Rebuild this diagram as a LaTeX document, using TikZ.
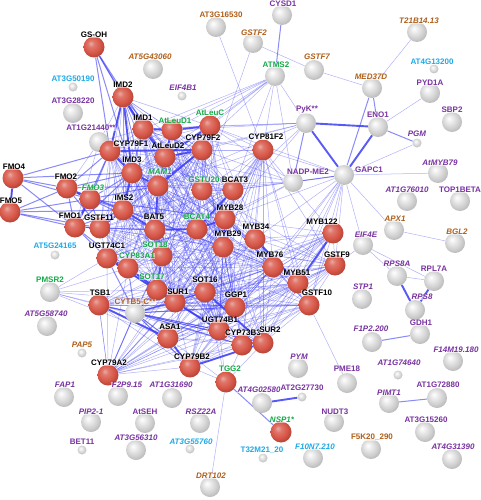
\documentclass[tikz,border=0pt]{standalone}
\usepackage{fontspec}
\newfontfamily\lblfont{Liberation Sans}
\usetikzlibrary{backgrounds}
\definecolor{edgeblue}{RGB}{60,60,245}
\definecolor{lgreen}{RGB}{20,170,70}
\definecolor{lcyan}{RGB}{30,170,230}
\definecolor{lpurple}{RGB}{120,50,160}
\definecolor{lorange}{RGB}{175,95,25}
\definecolor{nred}{RGB}{215,85,70}
\definecolor{ngray}{RGB}{205,205,205}
\pgfdeclareradialshading{redsphere}{\pgfpoint{-8bp}{9bp}}{color(0bp)=(white!50!nred); color(8bp)=(nred!80!white); color(20bp)=(nred); color(32bp)=(nred!75!black); color(42bp)=(nred!55!black); color(50bp)=(nred!55!black)}
\pgfdeclareradialshading{graysphere}{\pgfpoint{-8bp}{9bp}}{color(0bp)=(white); color(9bp)=(white!92!black); color(22bp)=(ngray); color(33bp)=(black!32); color(42bp)=(black!48); color(50bp)=(black!48)}
\tikzset{
 rn/.style={circle, minimum size=21pt, inner sep=0pt, shading=redsphere},
 gn/.style={circle, minimum size=20pt, inner sep=0pt, shading=graysphere},
 sn/.style={circle, minimum size=9pt, inner sep=0pt, shading=graysphere},
 lab/.style={font=\lblfont\bfseries\fontsize{8}{9}\selectfont, inner sep=0.4pt, fill=white, fill opacity=0.55, text opacity=1},
 lk/.style={lab, text=black},
 lg/.style={lab, text=lgreen},
 lc/.style={lab, text=lcyan},
 lp/.style={lab, text=lpurple},
 lo/.style={lab, text=lorange},
 ital/.style={font=\lblfont\bfseries\itshape\fontsize{8}{9}\selectfont},
 e1/.style={draw=edgeblue, line width=0.5pt, opacity=0.4},
 e2/.style={draw=edgeblue, line width=1pt, opacity=0.6},
 e3/.style={draw=edgeblue, line width=1.9pt, opacity=0.85},
}
\begin{document}
\begin{tikzpicture}[x=1pt,y=-1pt]
\useasboundingbox (0,0) rectangle (481,500);
% ---------- nodes ----------
\node[rn] (gsoh) at (94,47) {};
\node[gn] (at5g43060) at (153,69) {};
\node[gn] (at3g16530) at (216,27) {};
\node[gn] (cysd1) at (282,15) {};
\node[gn] (gstf2) at (253,43) {};
\node[gn] (gstf7) at (314,70) {};
\node[gn] (atms2) at (275,76) {};
\node[sn] (eif4b1) at (182,96) {};
\node[gn] (t21b) at (417,32) {};
\node[sn] (at4g13200) at (434,69) {};
\node[gn] (med37d) at (372,88) {};
\node[gn] (pyd1a) at (430,93) {};
\node[gn] (sbp2) at (452,122) {};
\node[gn] (eno1) at (378,127) {};
\node[gn] (pyk) at (306,123) {};
\node[sn] (at3g50190) at (73,87) {};
\node[rn] (imd2) at (123,97) {};
\node[gn] (at3g28220) at (73,113) {};
\node[rn] (imd1) at (143,129) {};
\node[rn] (atleud1) at (172,130) {};
\node[rn] (atleuc) at (210,126) {};
\node[gn] (at1g21440) at (99,142) {};
\node[rn] (cyp79f1) at (110,151) {};
\node[rn] (atleud2) at (165,157) {};
\node[rn] (cyp79f2) at (202,150) {};
\node[rn] (cyp81f2) at (263,150) {};
\node[rn] (imd3) at (132,173) {};
\node[rn] (mam1) at (158,186) {};
\node[gn] (nadpme2) at (293,182) {};
\node[gn] (gapc1) at (344,175) {};
\node[sn] (pgm) at (417,143) {};
\node[gn] (atmyb79) at (438,173) {};
\node[rn] (fmo4) at (13,178) {};
\node[rn] (fmo2) at (67,188) {};
\node[rn] (fmo3) at (90,199) {};
\node[rn] (fmo5) at (10,212) {};
\node[rn] (ims2) at (123,210) {};
\node[rn] (gstu20) at (202,190) {};
\node[rn] (bcat3) at (233,190) {};
\node[gn] (at1g76010) at (407,201) {};
\node[gn] (top1beta) at (460,201) {};
\node[rn] (fmo1) at (75,227) {};
\node[rn] (gstf11) at (100,228) {};
\node[rn] (bat5) at (155,230) {};
\node[rn] (bcat4) at (197,229) {};
\node[rn] (myb28) at (225,219) {};
\node[rn] (myb34) at (255,239) {};
\node[rn] (myb29) at (223,247) {};
\node[rn] (myb122) at (333,233) {};
\node[gn] (apx1) at (394,230) {};
\node[gn] (bgl2) at (455,243) {};
\node[gn] (eif4e) at (363,245) {};
\node[sn] (at5g24165) at (55,255) {};
\node[rn] (ugt74c1) at (107,258) {};
\node[rn] (sot18) at (162,256) {};
\node[rn] (cyp83a1) at (128,268) {};
\node[rn] (myb76) at (273,267) {};
\node[rn] (gstf9) at (335,265) {};
\node[gn] (rps8a) at (397,276) {};
\node[gn] (rpl7a) at (434,281) {};
\node[gn] (pmsr2) at (50,292) {};
\node[rn] (sot17) at (157,290) {};
\node[rn] (myb51) at (298,283) {};
\node[rn] (sot16) at (205,292) {};
\node[rn] (tsb1) at (99,305) {};
\node[rn] (sur1) at (175,302) {};
\node[rn] (ggp1) at (235,307) {};
\node[rn] (gstf10) at (309,305) {};
\node[gn] (stp1) at (362,299) {};
\node[gn] (cytb5) at (135,313) {};
\node[gn] (rps8) at (415,310) {};
\node[gn] (at5g58740) at (47,326) {};
\node[rn] (ugt74b1) at (219,330) {};
\node[rn] (asa1) at (168,338) {};
\node[rn] (cyp73b3) at (242,345) {};
\node[rn] (sur2) at (263,343) {};
\node[gn] (gdh1) at (420,334) {};
\node[gn] (f1p2) at (372,342) {};
\node[sn] (pap5) at (82,353) {};
\node[rn] (cyp79a2) at (108,375) {};
\node[rn] (cyp79b2) at (190,367) {};
\node[rn] (tgg2) at (226,382) {};
\node[gn] (pym) at (298,368) {};
\node[gn] (pme18) at (347,383) {};
\node[gn] (f14m19) at (453,361) {};
\node[sn] (at1g74640) at (398,375) {};
\node[gn] (fap1) at (64,397) {};
\node[gn] (f2p9) at (118,396) {};
\node[gn] (at1g31690) at (172,398) {};
\node[gn] (at4g02580) at (262,403) {};
\node[sn] (at2g27730) at (302,397) {};
\node[gn] (pimt1) at (389,403) {};
\node[gn] (at1g72880) at (437,398) {};
\node[gn] (pip21) at (91,422) {};
\node[gn] (atseh) at (145,423) {};
\node[gn] (rsz22a) at (200,423) {};
\node[rn] (nsp1) at (281,432) {};
\node[gn] (nudt3) at (334,422) {};
\node[gn] (at3g15260) at (425,432) {};
\node[sn] (bet11) at (82,450) {};
\node[gn] (at3g56310) at (136,450) {};
\node[sn] (at3g55760) at (190,449) {};
\node[sn] (t32m21) at (263,458) {};
\node[gn] (f10n7) at (313,458) {};
\node[gn] (f5k20) at (371,449) {};
\node[gn] (at4g31390) at (452,459) {};
\node[gn] (drt102) at (210,487) {};
% ---------- edges ----------
\begin{scope}[on background layer]
\foreach \a [count=\i] in {imd2,imd1,atleud1,atleuc,cyp79f1,atleud2,cyp79f2,imd3,mam1,ims2,bat5,bcat4,bcat3,gstu20,myb28,myb29,myb76,ugt74c1,cyp83a1,sot18,sot17,sur1,ugt74b1,ggp1,gstf11}{
 \foreach \b [count=\j] in {imd2,imd1,atleud1,atleuc,cyp79f1,atleud2,cyp79f2,imd3,mam1,ims2,bat5,bcat4,bcat3,gstu20,myb28,myb29,myb76,ugt74c1,cyp83a1,sot18,sot17,sur1,ugt74b1,ggp1,gstf11}{
  \ifnum\j>\i \draw[e1] (\a) -- (\b); \fi }}
\foreach \a [count=\i] in {myb34,myb51,myb122,cyp79b2,sot16,sur1,sur2,ugt74b1,ggp1,tsb1,asa1,cyp81f2,gstf9,gstf10,cyp73b3,cyp79a2,myb28,myb29,myb76,cytb5}{
 \foreach \b [count=\j] in {myb34,myb51,myb122,cyp79b2,sot16,sur1,sur2,ugt74b1,ggp1,tsb1,asa1,cyp81f2,gstf9,gstf10,cyp73b3,cyp79a2,myb28,myb29,myb76,cytb5}{
  \ifnum\j>\i \draw[e1] (\a) -- (\b); \fi }}
% FMO block
\foreach \a [count=\i] in {fmo1,fmo2,fmo3,fmo4,fmo5}{
 \foreach \b [count=\j] in {fmo1,fmo2,fmo3,fmo4,fmo5}{
  \ifnum\j>\i \draw[e2] (\a) -- (\b); \fi }}
\foreach \a/\b in {fmo1/gstf11,fmo1/ims2,fmo1/imd3,fmo1/cyp79f1,fmo1/bat5,fmo2/imd3,fmo2/cyp79f1,fmo2/ims2,fmo2/mam1,fmo3/ims2,fmo3/imd3,fmo3/gstf11,fmo3/cyp79f1,fmo3/bat5,fmo3/mam1,fmo4/imd3,fmo4/cyp79f1,fmo5/gstf11,fmo5/ims2,fmo1/ugt74c1,fmo3/myb28,fmo2/myb29,fmo2/gstf11,fmo1/cyp83a1}
 \draw[e2] (\a) -- (\b);
% periphery to cluster (light)
\foreach \a/\b in {gapc1/myb122,gapc1/gstf9,gapc1/gstf10,gapc1/myb51,gapc1/myb76,gapc1/sur2,gapc1/myb34,gapc1/myb28,gapc1/cyp81f2,gapc1/atleuc,gapc1/bcat3,gapc1/ggp1,gapc1/cyp73b3,
 pyk/atleuc,pyk/atleud1,pyk/imd1,pyk/cyp79f2,pyk/bcat3,pyk/atleud2,pyk/mam1,pyk/myb28,
 nadpme2/atleuc,nadpme2/imd1,nadpme2/atleud2,nadpme2/bcat3,nadpme2/mam1,nadpme2/gstu20,nadpme2/bcat4,nadpme2/myb28,
 atms2/imd1,atms2/atleud1,atms2/atleuc,atms2/cyp79f1,atms2/atleud2,atms2/cyp81f2,atms2/bcat3,atms2/imd3,atms2/mam1,
 cyp81f2/atleuc,cyp81f2/cyp79f2,cyp81f2/bcat3,cyp81f2/imd1,cyp81f2/gstu20,cyp81f2/mam1,
 at1g21440/imd2,at1g21440/cyp79f1,at1g21440/imd3,at1g21440/fmo2,at1g21440/fmo1,at1g21440/imd1,at1g21440/atleud2,
 pmsr2/tsb1,pmsr2/cytb5,pmsr2/ugt74c1,pmsr2/cyp83a1,pmsr2/sot17,pmsr2/sur1,pmsr2/asa1,
 tgg2/cyp79b2,tgg2/ugt74b1,tgg2/cyp73b3,tgg2/sur2,tgg2/asa1,tgg2/sot16,
 cyp79a2/ugt74c1,cyp79a2/tsb1,cyp79a2/sur1,cyp79a2/cyp83a1,
 gstf9/gstf11,gstf10/gstf11,gstf9/gstu20,gstf10/gstu20,gstf9/eif4e,
 gstf2/gstf7,gstf7/med37d,med37d/t21b,eno1/pyd1a,pgm/gapc1,gapc1/atmyb79,gapc1/eif4e,gapc1/apx1,apx1/bgl2,
 eif4e/rps8a,eif4e/rpl7a,rps8a/rpl7a,tgg2/drt102,pme18/gstf10,at3g16530/cyp81f2,gstf2/gstu20,atms2/pyk,atms2/nadpme2}
 \draw[e1] (\a) -- (\b);
% cytb5 and gs-oh (medium)
\foreach \a/\b in {cytb5/cyp83a1,cytb5/sot17,cytb5/sur1,cytb5/ugt74b1,cytb5/sot16,cytb5/asa1,cytb5/tsb1,cytb5/cyp79b2,cytb5/ggp1,cytb5/sur2,cytb5/cyp73b3,cytb5/ugt74c1,cytb5/cyp79a2,cytb5/sot18,
 gsoh/imd2,gsoh/cyp79f1,gsoh/imd1,gsoh/atleud2,gsoh/imd3,
 cysd1/atms2,med37d/eno1,med37d/gapc1,eno1/pgm,pimt1/at1g72880,tgg2/nsp1,gapc1/nadpme2,pyk/nadpme2,f1p2/gdh1}
 \draw[e2] (\a) -- (\b);
% strong edges
\foreach \a/\b in {eno1/gapc1,eno1/pyk,pyk/gapc1,rps8a/rps8,rpl7a/rps8,at4g02580/at2g27730,
 imd2/imd1,imd2/imd3,imd2/cyp79f1,imd1/atleud1,atleud1/atleuc,imd1/atleud2,atleud1/atleud2,atleuc/atleud2,cyp79f1/cyp79f2,imd3/ims2,imd3/mam1,mam1/bat5,bat5/bcat4,bcat4/bcat3,myb28/myb29,myb28/bcat4,sur1/ugt74b1,sur1/cyp83a1,cyp83a1/ugt74c1,sot17/sot18,sot16/sur2,cyp79b2/sur2,cyp79b2/asa1,tsb1/asa1,myb34/myb51,myb51/myb122,cyp79f1/imd3,atleud2/cyp79f2,gstf11/ims2,ugt74c1/sur1,ims2/bat5,cyp79f2/mam1,fmo4/fmo5,fmo2/fmo3,fmo1/fmo3}
 \draw[e3] (\a) -- (\b);
\end{scope}
% ---------- labels ----------
\node[lk] (gsoh-l) at (94,35) {GS-OH};
\node[lo,ital] (at5g43060-l) at (150,57) {AT5G43060};
\node[lo] (at3g16530-l) at (221,15) {AT3G16530};
\node[lp] (cysd1-l) at (283,4) {CYSD1};
\node[lo,ital] (gstf2-l) at (254,33) {GSTF2};
\node[lo,ital] (gstf7-l) at (317,57) {GSTF7};
\node[lg] (atms2-l) at (276,65) {ATMS2};
\node[lp,ital] (eif4b1-l) at (183,88) {EIF4B1};
\node[lo,ital] (t21b-l) at (419,21) {T21B14.13};
\node[lc] (at4g13200-l) at (432,62) {AT4G13200};
\node[lo,ital] (med37d-l) at (371,77) {MED37D};
\node[lp] (pyd1a-l) at (430,83) {PYD1A};
\node[lp] (sbp2-l) at (452,110) {SBP2};
\node[lp] (eno1-l) at (378,115) {ENO1};
\node[lp] (pyk-l) at (307,110) {PyK**};
\node[lc] (at3g50190-l) at (73,79) {AT3G50190};
\node[lk] (imd2-l) at (123,85) {IMD2};
\node[lp] (at3g28220-l) at (73,101) {AT3G28220};
\node[lk] (imd1-l) at (143,118) {IMD1};
\node[lg] (atleud1-l) at (175,121) {AtLeuD1};
\node[lg] (atleuc-l) at (210,113) {AtLeuC};
\node[lp] (at1g21440-l) at (91,128) {AT1G21440**};
\node[lk] (cyp79f1-l) at (131,144) {CYP79F1};
\node[lk] (atleud2-l) at (168,146) {AtLeuD2};
\node[lk] (cyp79f2-l) at (203,138) {CYP79F2};
\node[lk] (cyp81f2-l) at (266,137) {CYP81F2};
\node[lk] (imd3-l) at (132,160) {IMD3};
\node[lg,ital] (mam1-l) at (160,172) {MAM1};
\node[lp] (nadpme2-l) at (308,172) {NADP-ME2};
\node[lp] (gapc1-l) at (369,170) {GAPC1};
\node[lp,ital] (pgm-l) at (417,134) {PGM};
\node[lp,ital] (atmyb79-l) at (440,163) {AtMYB79};
\node[lk] (fmo4-l) at (14,167) {FMO4};
\node[lk] (fmo2-l) at (66,177) {FMO2};
\node[lg,ital] (fmo3-l) at (93,188) {FMO3};
\node[lk] (fmo5-l) at (11,201) {FMO5};
\node[lk] (ims2-l) at (124,198) {IMS2};
\node[lg] (gstu20-l) at (204,180) {GSTU20};
\node[lk] (bcat3-l) at (235,180) {BCAT3};
\node[lp,ital] (at1g76010-l) at (407,190) {AT1G76010};
\node[lp] (top1beta-l) at (460,190) {TOP1BETA};
\node[lk] (fmo1-l) at (70,216) {FMO1};
\node[lk] (gstf11-l) at (99,218) {GSTF11};
\node[lk] (bat5-l) at (154,217) {BAT5};
\node[lg] (bcat4-l) at (197,217) {BCAT4};
\node[lk] (myb28-l) at (230,208) {MYB28};
\node[lk] (myb34-l) at (256,227) {MYB34};
\node[lk] (myb29-l) at (228,234) {MYB29};
\node[lk] (myb122-l) at (322,222) {MYB122};
\node[lo,ital] (apx1-l) at (395,219) {APX1};
\node[lo,ital] (bgl2-l) at (457,232) {BGL2};
\node[lp,ital] (eif4e-l) at (366,235) {EIF4E};
\node[lc] (at5g24165-l) at (55,246) {AT5G24165};
\node[lk] (ugt74c1-l) at (107,246) {UGT74C1};
\node[lg] (sot18-l) at (155,245) {SOT18};
\node[lg] (cyp83a1-l) at (137,256) {CYP83A1};
\node[lk] (myb76-l) at (270,255) {MYB76};
\node[lk] (gstf9-l) at (337,255) {GSTF9};
\node[lp,ital] (rps8a-l) at (397,264) {RPS8A};
\node[lp] (rpl7a-l) at (434,269) {RPL7A};
\node[lg] (pmsr2-l) at (50,280) {PMSR2};
\node[lg] (sot17-l) at (152,277) {SOT17};
\node[lk] (myb51-l) at (297,273) {MYB51};
\node[lk] (sot16-l) at (205,280) {SOT16};
\node[lk] (tsb1-l) at (100,293) {TSB1};
\node[lk] (sur1-l) at (178,292) {SUR1};
\node[lk] (ggp1-l) at (236,295) {GGP1};
\node[lk] (gstf10-l) at (317,293) {GSTF10};
\node[lp,ital] (stp1-l) at (363,287) {STP1};
\node[lo] (cytb5-l) at (135,302) {CYTB5-C**};
\node[lp,ital] (rps8-l) at (422,297) {RPS8};
\node[lp,ital] (at5g58740-l) at (46,314) {AT5G58740};
\node[lk] (ugt74b1-l) at (220,320) {UGT74B1};
\node[lk] (asa1-l) at (170,327) {ASA1};
\node[lk] (cyp73b3-l) at (243,333) {CYP73B3};
\node[lk] (sur2-l) at (270,330) {SUR2};
\node[lp] (gdh1-l) at (421,323) {GDH1};
\node[lp,ital] (f1p2-l) at (371,329) {F1P2.200};
\node[lo,ital] (pap5-l) at (82,345) {PAP5};
\node[lk] (cyp79a2-l) at (109,363) {CYP79A2};
\node[lk] (cyp79b2-l) at (192,357) {CYP79B2};
\node[lg] (tgg2-l) at (230,369) {TGG2};
\node[lp,ital] (pym-l) at (299,357) {PYM};
\node[lp] (pme18-l) at (347,369) {PME18};
\node[lp,ital] (f14m19-l) at (456,350) {F14M19.180};
\node[lp,ital] (at1g74640-l) at (399,363) {AT1G74640};
\node[lp,ital] (fap1-l) at (65,385) {FAP1};
\node[lp,ital] (f2p9-l) at (127,385) {F2P9.15};
\node[lp,ital] (at1g31690-l) at (171,385) {AT1G31690};
\node[lp,ital] (at4g02580-l) at (259,390) {AT4G02580};
\node[lp] (at2g27730-l) at (302,388) {AT2G27730};
\node[lp,ital] (pimt1-l) at (389,393) {PIMT1};
\node[lp] (at1g72880-l) at (438,385) {AT1G72880};
\node[lp,ital] (pip21-l) at (91,412) {PIP2-1};
\node[lp] (atseh-l) at (145,412) {AtSEH};
\node[lp,ital] (rsz22a-l) at (201,412) {RSZ22A};
\node[lg,ital] (nsp1-l) at (282,420) {NSP1*};
\node[lp] (nudt3-l) at (335,412) {NUDT3};
\node[lp] (at3g15260-l) at (426,420) {AT3G15260};
\node[lp] (bet11-l) at (82,442) {BET11};
\node[lp,ital] (at3g56310-l) at (136,438) {AT3G56310};
\node[lc,ital] (at3g55760-l) at (191,442) {AT3G55760};
\node[lc] (t32m21-l) at (262,450) {T32M21\_20};
\node[lc,ital] (f10n7-l) at (315,447) {F10N7.210};
\node[lo] (f5k20-l) at (372,437) {F5K20\_290};
\node[lp,ital] (at4g31390-l) at (453,447) {AT4G31390};
\node[lo,ital] (drt102-l) at (211,476) {DRT102};
\end{tikzpicture}
\end{document}
